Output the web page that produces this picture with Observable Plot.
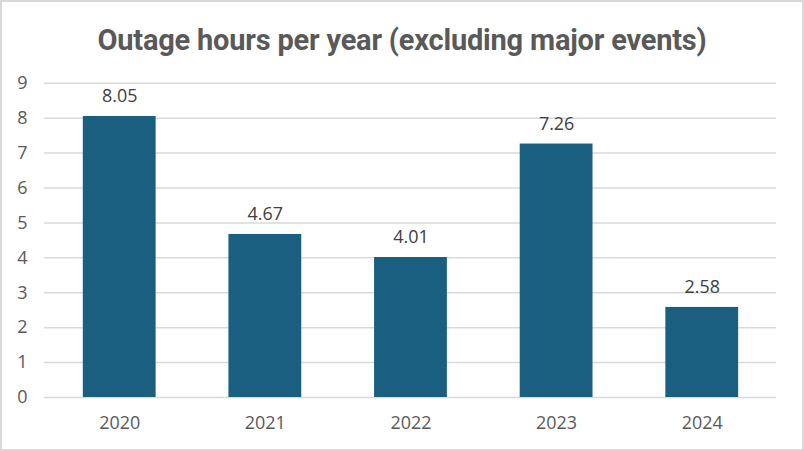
<!DOCTYPE html>
<html>
<head>
<meta charset="utf-8">
<script src="https://cdn.jsdelivr.net/npm/d3@7"></script>
<script src="https://cdn.jsdelivr.net/npm/@observablehq/plot@0.6"></script>
<style>
  html, body { margin: 0; padding: 0; background: #fff; }
  #wrap { position: relative; width: 804px; height: 451px; box-sizing: border-box; border: 2px solid #d9d9d9; overflow: hidden; }
  #title { position: absolute; left: 0; top: 21px; width: 800px; text-align: center; font-family: "Roboto", sans-serif; font-weight: bold; font-size: 29px; letter-spacing: -0.2px; color: #595959; }
  #chart { position: absolute; left: -2px; top: -2px; }
</style>
</head>
<body>
<div id="wrap">
  <div id="title">Outage hours per year (excluding major events)</div>
  <div id="chart"></div>
</div>
<script>
const years = ["2020", "2021", "2022", "2023", "2024"];
const hours = [8.05, 4.67, 4.01, 7.26, 2.58];
const yTicks = [0, 1, 2, 3, 4, 5, 6, 7, 8, 9];

const data = years.map((y, i) => ({year: y, hours: hours[i]}));

const chart = Plot.plot({
  width: 804,
  height: 451,
  marginTop: 83,
  marginBottom: 53,
  marginLeft: 44,
  marginRight: 26,
  style: { fontFamily: "'Open Sans', sans-serif", fontSize: "18px", color: "#595959", background: "transparent" },
  x: { domain: years, paddingInner: 0.5, paddingOuter: 0.25, label: null },
  y: { domain: [0, 9], ticks: yTicks, label: null },
  marks: [
    Plot.gridY(yTicks, { stroke: "#d9d9d9", strokeOpacity: 1, strokeWidth: 1.5 }),
    Plot.axisY(yTicks, { tickSize: 0, tickPadding: 17, fill: "#595959", fontSize: 18, label: null }),
    Plot.axisX({ tickSize: 0, tickPadding: 19, fill: "#595959", fontSize: 18, label: null }),
    Plot.barY(data, { x: "year", y: "hours", fill: "#1a5e80" }),
    Plot.text(data, { x: "year", y: "hours", text: d => d.hours.toFixed(2), dy: -20, fill: "#404040", fontSize: 18, lineAnchor: "middle" })
  ]
});
document.getElementById("chart").appendChild(chart);
</script>
</body>
</html>
